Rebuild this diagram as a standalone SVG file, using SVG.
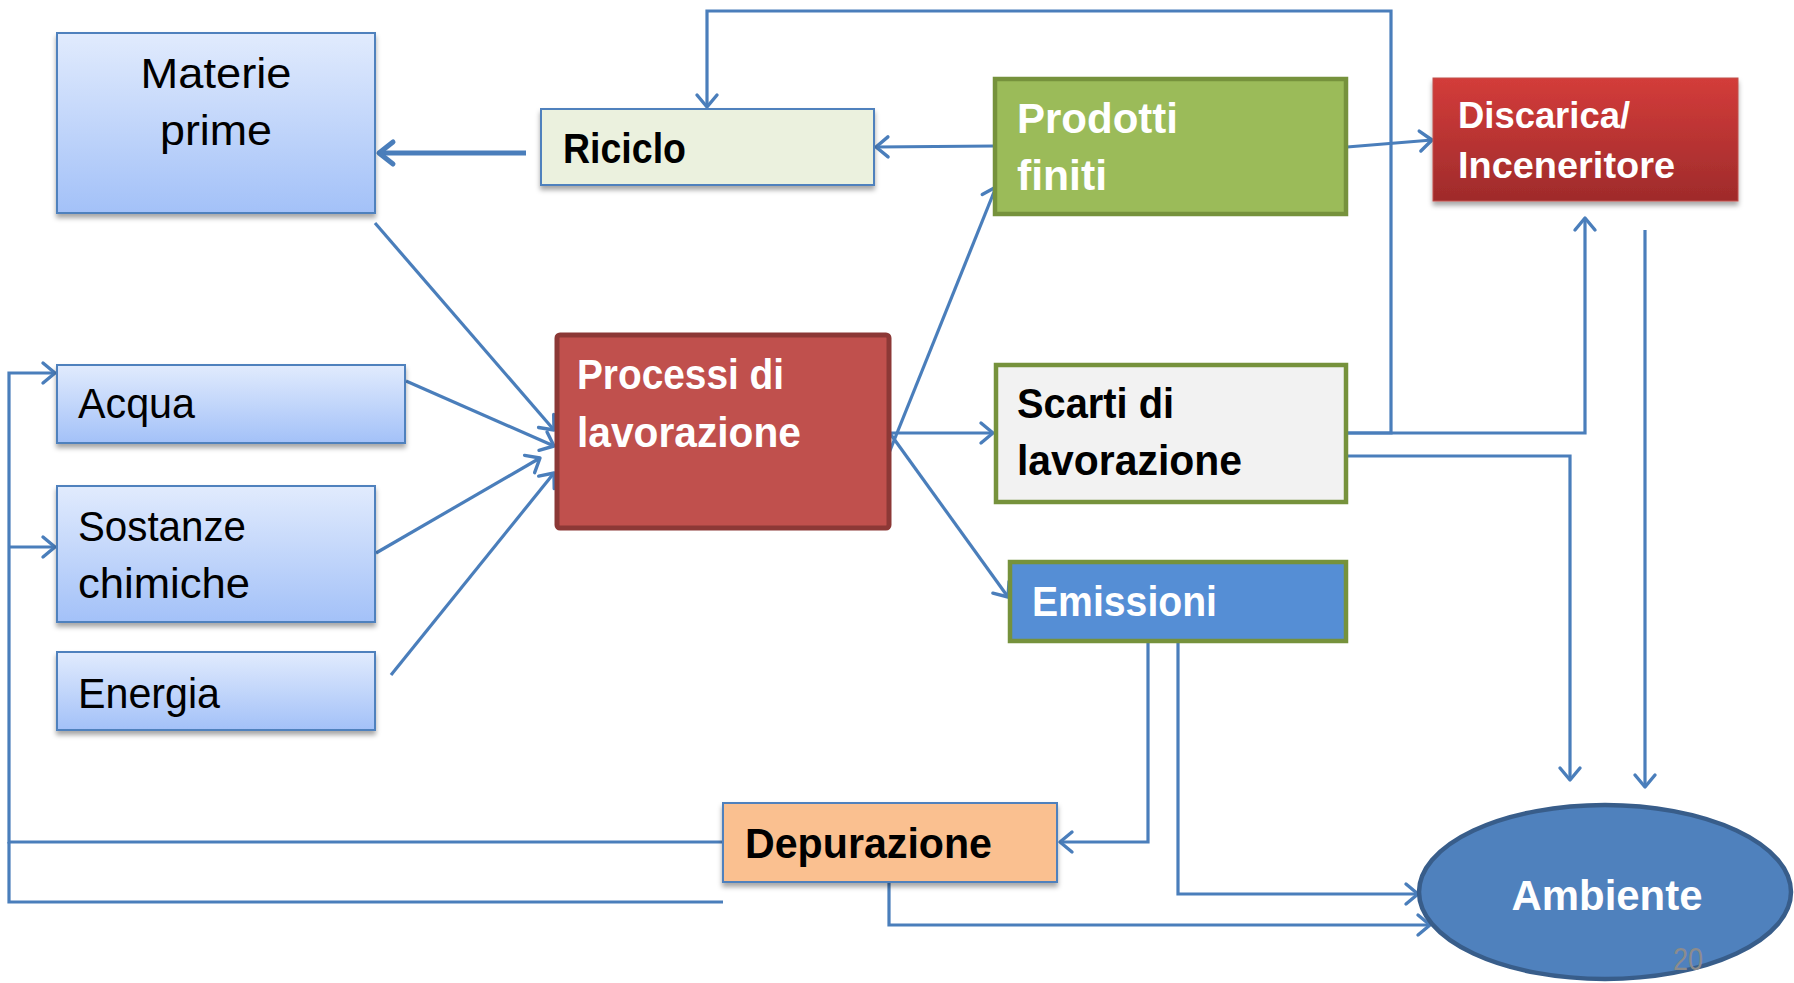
<svg xmlns="http://www.w3.org/2000/svg" width="1794" height="983" viewBox="0 0 1794 983">
  <style>
    .t { font-family: 'Liberation Sans', Arial, sans-serif; font-size: 43px; fill: #000; }
    .b { font-weight: bold; }
    .w { fill: #fff; }
    .sm { font-size: 37px; }
    .pg { font-size: 31px; fill: #8C8C8C; }
    .c { fill: none; stroke: #4A7EBB; stroke-width: 3.2; stroke-linejoin: miter; }
    .thick { stroke-width: 5; }
    .blue { fill: url(#gBlue); stroke: #4F81BD; stroke-width: 2; }
    .green { stroke: #76923C; stroke-width: 4.5; }
  </style>
  <defs>
    <linearGradient id="gBlue" x1="0" y1="0" x2="0" y2="1">
      <stop offset="0" stop-color="#E1EBFD"/>
      <stop offset="1" stop-color="#A3C1F8"/>
    </linearGradient>
    <linearGradient id="gRed" x1="0" y1="0" x2="0" y2="1">
      <stop offset="0" stop-color="#D33C3A"/>
      <stop offset="1" stop-color="#9F2B2B"/>
    </linearGradient>
    <filter id="sh" x="-10%" y="-10%" width="120%" height="130%">
      <feDropShadow dx="0" dy="4" stdDeviation="2.5" flood-color="#000" flood-opacity="0.35"/>
    </filter>
    <marker id="ar" markerUnits="userSpaceOnUse" viewBox="0 0 18 26" refX="15" refY="13" markerWidth="18" markerHeight="26" orient="auto">
      <path d="M3,3 L15,13 L3,23" fill="none" stroke="#4A7EBB" stroke-width="3.4" stroke-linecap="round" stroke-linejoin="round"/>
    </marker>
    <marker id="arT" markerUnits="userSpaceOnUse" viewBox="0 0 22 30" refX="18" refY="15" markerWidth="22" markerHeight="30" orient="auto">
      <path d="M4,4 L18,15 L4,26" fill="none" stroke="#4A7EBB" stroke-width="5" stroke-linecap="round" stroke-linejoin="round"/>
    </marker>
  </defs>

  <g id="connectors">
    <path class="c thick" d="M526,153 L379,153" marker-end="url(#arT)"/>
    <path class="c" d="M1347,433 L1391,433 L1391,11 L707,11 L707,107" marker-end="url(#ar)"/>
    <path class="c" d="M1347,433 L1585,433 L1585,218" marker-end="url(#ar)"/>
    <path class="c" d="M1347,456 L1570,456 L1570,780" marker-end="url(#ar)"/>
    <path class="c" d="M1645,230 L1645,787" marker-end="url(#ar)"/>
    <path class="c" d="M995,146 L876,147" marker-end="url(#ar)"/>
    <path class="c" d="M1347,147 L1432,140" marker-end="url(#ar)"/>
    <path class="c" d="M889,453 L996,187" marker-end="url(#ar)"/>
    <path class="c" d="M889,433 L993,433" marker-end="url(#ar)"/>
    <path class="c" d="M889,432 L1008,597" marker-end="url(#ar)"/>
    <path class="c" d="M375,223 L554,430" marker-end="url(#ar)"/>
    <path class="c" d="M406,381 L554,446" marker-end="url(#ar)"/>
    <path class="c" d="M376,553 L540,458" marker-end="url(#ar)"/>
    <path class="c" d="M391,675 L554,473" marker-end="url(#ar)"/>
    <path class="c" d="M1148,642 L1148,842 L1060,842" marker-end="url(#ar)"/>
    <path class="c" d="M1178,642 L1178,894 L1418,894" marker-end="url(#ar)"/>
    <path class="c" d="M889,882 L889,925 L1430,925" marker-end="url(#ar)"/>
    <path class="c" d="M723,842 L9,842 L9,373 L55,373" marker-end="url(#ar)"/>
    <path class="c" d="M9,547 L55,547" marker-end="url(#ar)"/>
    <path class="c" d="M723,902 L9,902 L9,842"/>
  </g>

  <g id="materie-prime">
    <rect class="blue" x="57" y="33" width="318" height="180" filter="url(#sh)"/>
    <text class="t" x="216" y="88" text-anchor="middle" textLength="151" lengthAdjust="spacingAndGlyphs">Materie</text>
    <text class="t" x="216" y="145" text-anchor="middle" textLength="112" lengthAdjust="spacingAndGlyphs">prime</text>
  </g>

  <g id="riciclo">
    <rect x="541" y="109" width="333" height="76" fill="#EBF1DE" stroke="#4F81BD" stroke-width="2" filter="url(#sh)"/>
    <text class="t b" x="563" y="163" textLength="123" lengthAdjust="spacingAndGlyphs">Riciclo</text>
  </g>

  <g id="prodotti-finiti">
    <rect class="green" x="995" y="79" width="351" height="135" fill="#9BBB59"/>
    <text class="t b w" x="1017" y="133" textLength="161" lengthAdjust="spacingAndGlyphs">Prodotti</text>
    <text class="t b w" x="1017" y="190" textLength="90" lengthAdjust="spacingAndGlyphs">finiti</text>
  </g>

  <g id="discarica">
    <rect x="1433" y="78" width="305" height="123" fill="url(#gRed)" stroke="#C0504D" stroke-width="1" filter="url(#sh)"/>
    <text class="t b w sm" x="1458" y="128" textLength="172" lengthAdjust="spacingAndGlyphs">Discarica/</text>
    <text class="t b w sm" x="1458" y="178" textLength="217" lengthAdjust="spacingAndGlyphs">Inceneritore</text>
  </g>

  <g id="processi">
    <rect x="557" y="335" width="332" height="193" rx="3" fill="#C0504D" stroke="#8C3836" stroke-width="5"/>
    <text class="t b w" x="577" y="389" textLength="207" lengthAdjust="spacingAndGlyphs">Processi di</text>
    <text class="t b w" x="577" y="447" textLength="224" lengthAdjust="spacingAndGlyphs">lavorazione</text>
  </g>

  <g id="acqua">
    <rect class="blue" x="57" y="365" width="348" height="78" filter="url(#sh)"/>
    <text class="t" x="78" y="418" textLength="117" lengthAdjust="spacingAndGlyphs">Acqua</text>
  </g>

  <g id="sostanze-chimiche">
    <rect class="blue" x="57" y="486" width="318" height="136" filter="url(#sh)"/>
    <text class="t" x="78" y="541" textLength="168" lengthAdjust="spacingAndGlyphs">Sostanze</text>
    <text class="t" x="78" y="598" textLength="172" lengthAdjust="spacingAndGlyphs">chimiche</text>
  </g>

  <g id="energia">
    <rect class="blue" x="57" y="652" width="318" height="78" filter="url(#sh)"/>
    <text class="t" x="78" y="708" textLength="142" lengthAdjust="spacingAndGlyphs">Energia</text>
  </g>

  <g id="scarti">
    <rect class="green" x="996" y="365" width="350" height="137" fill="#F2F2F2"/>
    <text class="t b" x="1017" y="418" textLength="157" lengthAdjust="spacingAndGlyphs">Scarti di</text>
    <text class="t b" x="1017" y="475" textLength="225" lengthAdjust="spacingAndGlyphs">lavorazione</text>
  </g>

  <g id="emissioni">
    <rect class="green" x="1010" y="562" width="336" height="79" fill="#558ED5"/>
    <text class="t b w" x="1032" y="616" textLength="185" lengthAdjust="spacingAndGlyphs">Emissioni</text>
  </g>

  <g id="depurazione">
    <rect x="723" y="803" width="334" height="79" fill="#FAC090" stroke="#4F81BD" stroke-width="2" filter="url(#sh)"/>
    <text class="t b" x="745" y="858" textLength="247" lengthAdjust="spacingAndGlyphs">Depurazione</text>
  </g>

  <g id="ambiente">
    <ellipse cx="1605" cy="892" rx="186" ry="87" fill="#4F81BD" stroke="#385D8A" stroke-width="4.5"/>
    <text class="t b w" x="1607" y="910" text-anchor="middle" textLength="191" lengthAdjust="spacingAndGlyphs">Ambiente</text>
  </g>

  <text id="page-number" class="t pg" x="1673" y="970" textLength="30" lengthAdjust="spacingAndGlyphs">20</text>
</svg>
